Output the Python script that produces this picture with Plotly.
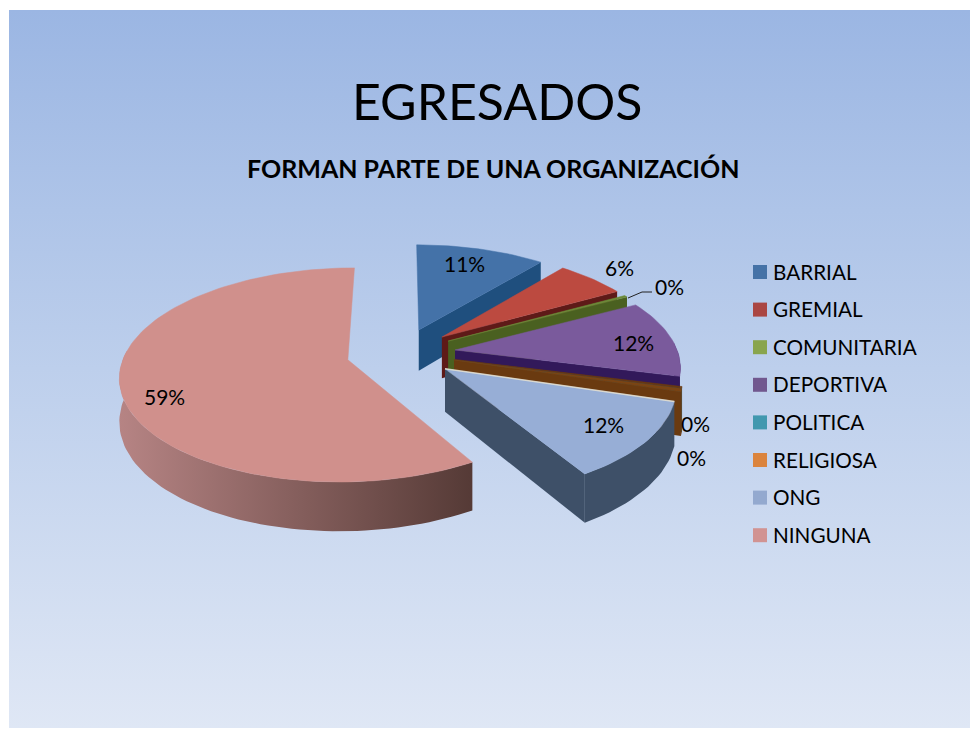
import math
import plotly.graph_objects as go

# ---- data ----
categories = ["BARRIAL", "GREMIAL", "COMUNITARIA", "DEPORTIVA", "POLITICA", "RELIGIOSA", "ONG", "NINGUNA"]
values = [10.9, 5.9, 0.4, 11.8, 0.2, 0.49, 11.7, 58.6]
legend_colors = ["#4572A7", "#AA4643", "#89A54E", "#71588F", "#4198AF", "#DB843D", "#93A9CF", "#D19392"]
top_colors = ["#4472A8", "#BC4A40", "#6B8A38", "#7A5A9C", "#6A3A10", "#7A4414", "#97AED6", "#D0908C"]
wall_left = ["#2F6496", "#7A2420", "#4F6A24", "#3F2070", "#24606E", "#7A4414", "#3E5068", "#B68484"]
wall_right = ["#1F4F7E", "#5E1A18", "#4A6020", "#32195A", "#1C4C58", "#6A3A10", "#3E5068", "#553A36"]
label_x = [464, 619, 669, 633, 695, 691, 603, 164]
label_y = [263, 267, 286, 342, 423, 457, 424, 396]
title_text = "EGRESADOS"
subtitle_text = "FORMAN PARTE DE UNA ORGANIZACIÓN"

# ---- projection of the exploded, tilted pie ----
CX, CY = 401, 353
A0, B0 = 223, 103
PERSP = 0.14
PULL = 0.245
DEPTH = 42

LEGEND_TOP = 272
LEGEND_STEP = 37.6


def project(x, y, drop=0.0):
    s = 1 / (1 + PERSP * y)
    return CX + A0 * x * s, CY - B0 * y * s + drop * s


def polygon(points):
    xs = [p[0] for p in points]
    ys = [p[1] for p in points]
    return xs + xs[:1], ys + ys[:1]


fig = go.Figure()

# slide background
fig.add_trace(go.Scatter(
    x=[9, 970, 970, 9, 9], y=[10, 10, 728, 728, 10], mode="lines", fill="toself",
    line=dict(width=0), showlegend=False, hoverinfo="skip",
    fillgradient=dict(type="vertical", colorscale=[[0, "#DFE7F5"], [0.5, "#BDCFEC"], [1, "#9BB6E3"]]),
))

total = sum(values)
start = 0.0
for i, (name, v) in enumerate(zip(categories, values)):
    a1 = start / total * 2 * math.pi
    a2 = (start + v) / total * 2 * math.pi
    start += v
    mid = (a1 + a2) / 2
    ox, oy = PULL * math.sin(mid), PULL * math.cos(mid)
    n = max(4, int(v * 2))
    arc = [a1 + (a2 - a1) * k / n for k in range(n + 1)]
    rim = [(ox + math.sin(t), oy + math.cos(t)) for t in arc]
    # outer wall, only where the rim faces the viewer
    front = [(ox + math.sin(t), oy + math.cos(t)) for t in arc if math.cos(t) < 0.1]
    if len(front) >= 2:
        wall = [project(*p) for p in front] + [project(*p, DEPTH) for p in reversed(front)]
        wx, wy = polygon(wall)
        fig.add_trace(go.Scatter(
            x=wx, y=wy, mode="lines", fill="toself", line=dict(width=0),
            showlegend=False, hoverinfo="skip",
            fillgradient=dict(type="horizontal", colorscale=[[0, wall_left[i]], [1, wall_right[i]]]),
        ))
    # radial wall on the clockwise edge
    if i < len(values) - 1:
        e = rim[-1]
        quad = [project(ox, oy), project(*e), project(*e, DEPTH), project(ox, oy, DEPTH)]
        qx, qy = polygon(quad)
        fig.add_trace(go.Scatter(
            x=qx, y=qy, mode="lines", fill="toself", line=dict(width=0),
            fillcolor=wall_right[i], showlegend=False, hoverinfo="skip",
        ))
    # top face
    tx, ty = polygon([project(ox, oy)] + [project(*p) for p in rim])
    fig.add_trace(go.Scatter(
        x=tx, y=ty, mode="lines", fill="toself", line=dict(width=0.5, color=top_colors[i]),
        fillcolor=top_colors[i], showlegend=False, hoverinfo="skip",
    ))
    # pale highlight along the upper edge of the ONG face
    if name == "ONG":
        hx, hy = zip(project(ox, oy), project(*rim[0]))
        fig.add_trace(go.Scatter(
            x=list(hx), y=list(hy), mode="lines", line=dict(width=1.5, color="rgba(238,232,215,0.8)"),
            showlegend=False, hoverinfo="skip",
        ))

# leader line of the COMUNITARIA label
fig.add_trace(go.Scatter(
    x=[628, 642, 652], y=[298, 292, 292], mode="lines", line=dict(width=1, color="#222222"),
    showlegend=False, hoverinfo="skip",
))

# legend: square swatch plus name, one row per category
for i, name in enumerate(categories):
    row = LEGEND_TOP + i * LEGEND_STEP
    fig.add_trace(go.Scatter(
        x=[760], y=[row], mode="markers", name=name, showlegend=False, hoverinfo="name",
        marker=dict(symbol="square", size=14, color=legend_colors[i]),
    ))
    fig.add_annotation(
        x=771, y=row - 0.5, text=name, showarrow=False, xanchor="left",
        font=dict(family="Lato", size=20.7, color="#000000"),
    )

for i, v in enumerate(values):
    fig.add_annotation(
        x=label_x[i], y=label_y[i], text=f"{v / total * 100:.0f}%", showarrow=False,
        font=dict(family="Lato", size=21, color="#000000"),
    )

fig.add_annotation(x=497, y=101, text=title_text, showarrow=False,
                   font=dict(family="Lato", size=50, color="#000000"))
fig.add_annotation(x=493, y=168, text=f"<b>{subtitle_text}</b>", showarrow=False,
                   font=dict(family="Lato", size=25, color="#000000"))

fig.update_layout(
    width=970, height=730, margin=dict(l=0, r=0, t=0, b=0),
    paper_bgcolor="#FFFFFF", plot_bgcolor="rgba(0,0,0,0)",
    showlegend=False,
    xaxis=dict(range=[0, 970], visible=False, fixedrange=True),
    yaxis=dict(range=[730, 0], visible=False, fixedrange=True),
)

# the page's default body margin would push the figure 8px in
fig.write_html(
    "out.html",
    config={"displayModeBar": False},
    post_script="document.body.style.margin='0';document.documentElement.style.overflow='hidden';",
)
